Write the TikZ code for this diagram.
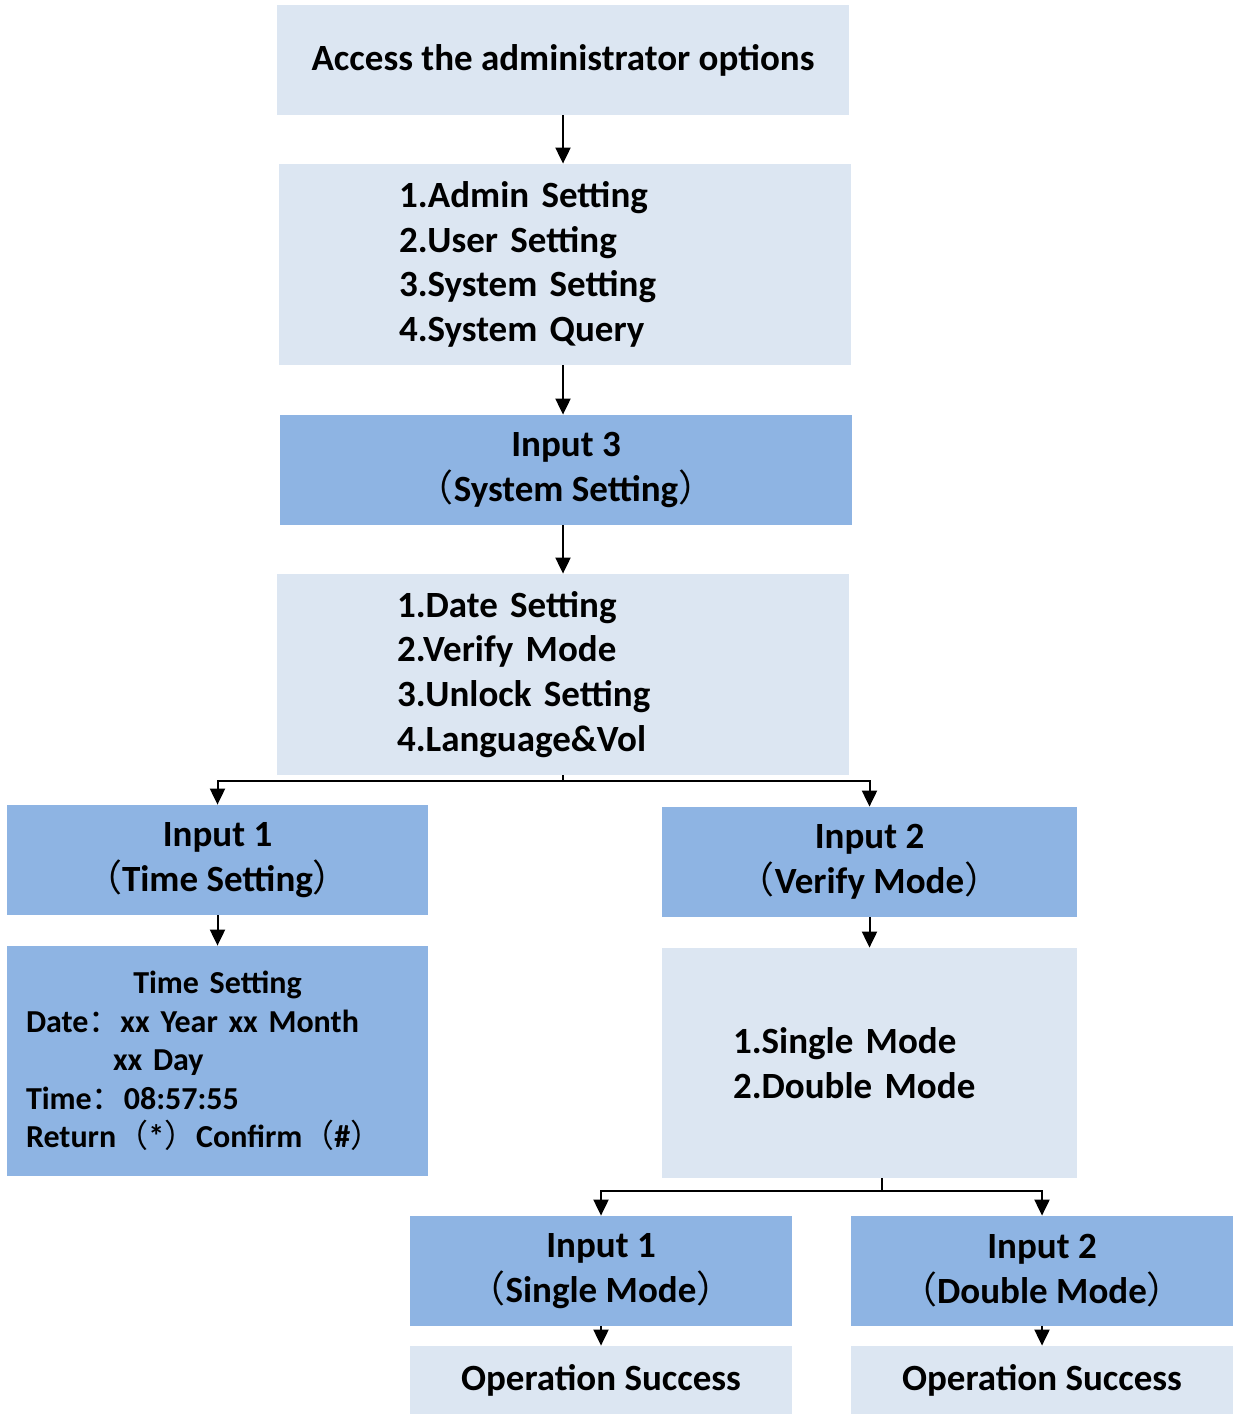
\documentclass[tikz,border=0pt]{standalone}
\usepackage{fontspec}
\setmainfont{Carlito}
\newfontfamily\cjk{Noto Sans CJK SC}
\usetikzlibrary{arrows.meta}
\newcommand{\lpar}{{\cjk\mdseries （}}
\newcommand{\rpar}{{\cjk\mdseries ）}}
\newcommand{\fcolon}{{\cjk\mdseries ：}}
\definecolor{menublue}{HTML}{DCE6F2}
\definecolor{inputblue}{HTML}{8EB4E3}
\tikzset{menubox/.style={fill=menublue,inner sep=0pt,font=\bfseries\fontsize{18.5}{22.4}\selectfont},
         inputbox/.style={menubox,fill=inputblue,align=center},
         flow/.style={line width=1pt,-{Triangle[width=7.5pt,length=8pt]}},
         joinline/.style={line width=1pt}}

\begin{document}
\begin{tikzpicture}[x=0.5pt,y=-0.5pt]
\useasboundingbox (0,0) rectangle (1236,1416);
% main menu path
\node (access) [menubox,minimum width=286pt,minimum height=55pt] at (563,60) {Access the administrator options};
\node (mainmenu) [menubox,align=left,minimum width=286pt,minimum height=100.5pt,text width=166pt,inner xsep=60pt] at (565,264.5)
      {1.Admin Setting\\2.User Setting\\3.System Setting\\4.System Query};
\node (sysinput) [inputbox,minimum width=286pt,minimum height=55pt] at (566,470) {Input 3\\\lpar System Setting\rpar};
\node (sysmenu) [menubox,align=left,minimum width=286pt,minimum height=100.5pt,text width=166pt,inner xsep=60pt] at (563,674.5)
      {1.Date Setting\\2.Verify Mode\\3.Unlock Setting\\4.Language\&Vol};
% time branch
\node (timeinput) [inputbox,minimum width=210.5pt,minimum height=55pt] at (217.5,860) {Input 1\\\lpar Time Setting\rpar};
\node (timemenu) [inputbox,align=left,minimum width=210.5pt,minimum height=115pt,text width=191.5pt,inner xsep=9.5pt,
      font=\bfseries\fontsize{16}{19.25}\selectfont] at (217.5,1061)
      {\makebox[191.5pt]{Time Setting}\\Date\fcolon xx Year xx Month\\\hspace*{43.5pt}xx Day\\Time\fcolon 08:57:55\\Return\lpar*\rpar Confirm\lpar\#\rpar};
% verify branch
\node (verifyinput) [inputbox,minimum width=207.5pt,minimum height=55pt] at (869.5,862) {Input 2\\\lpar Verify Mode\rpar};
\node (modemenu) [menubox,align=left,minimum width=207.5pt,minimum height=115pt,text width=136.5pt,inner xsep=35.5pt] at (869.5,1063)
      {1.Single Mode\\2.Double Mode};
\node (singleinput) [inputbox,minimum width=191pt,minimum height=55pt] at (601,1271) {Input 1\\\lpar Single Mode\rpar};
\node (doubleinput) [inputbox,minimum width=191pt,minimum height=55pt] at (1042,1271) {Input 2\\\lpar Double Mode\rpar};
\node (singledone) [menubox,minimum width=191pt,minimum height=34pt] at (601,1380) {Operation Success};
\node (doubledone) [menubox,minimum width=191pt,minimum height=34pt] at (1042,1380) {Operation Success};
\coordinate (sysfork) at (563,781);
\coordinate (modefork) at (882,1191);
% connectors
\draw[flow] (access.south) -- (access.south |- mainmenu.north);
\draw[flow] (mainmenu.south -| access.south) -- (sysinput.north -| access.south);
\draw[flow] (sysinput.south -| access.south) -- (sysmenu.north -| access.south);
\draw[joinline] (sysmenu.south) -- (sysfork);
\draw[flow] (sysfork) -| (timeinput.north);
\draw[flow] (sysfork) -| (verifyinput.north);
\draw[flow] (timeinput.south) -- (timemenu.north);
\draw[flow] (verifyinput.south) -- (modemenu.north);
\draw[joinline] (modemenu.south -| modefork) -- (modefork);
\draw[flow] (modefork) -| (singleinput.north);
\draw[flow] (modefork) -| (doubleinput.north);
\draw[flow] (singleinput.south) -- (singledone.north);
\draw[flow] (doubleinput.south) -- (doubledone.north);
\end{tikzpicture}
\end{document}
